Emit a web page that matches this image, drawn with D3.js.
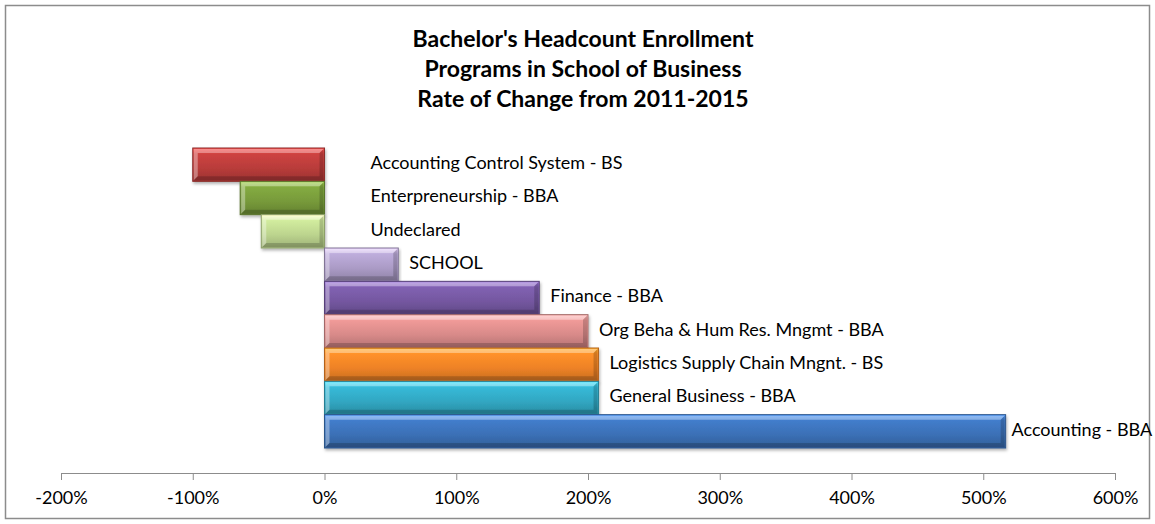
<!DOCTYPE html>
<html>
<head>
<meta charset="utf-8">
<script src="https://cdn.jsdelivr.net/npm/d3@7"></script>
<style>
  body { margin: 0; background: #fff; }
  svg { display: block; font-family: Lato, "Open Sans", sans-serif; }
  .title { font-weight: bold; font-size: 23px; fill: #000; }
  .lbl { font-size: 18px; fill: #000; }
  .axis text { font-size: 18px; fill: #000; font-family: Lato, "Open Sans", sans-serif; }
  .axis path, .axis line { stroke: #8c8c8c; }
</style>
</head>
<body>
<svg id="chart" width="1155" height="524"></svg>
<script>
// data, top to bottom
const programs = [
    "Accounting Control System - BS",
    "Enterpreneurship - BBA",
    "Undeclared",
    "SCHOOL",
    "Finance - BBA",
    "Org Beha & Hum Res. Mngmt - BBA",
    "Logistics Supply Chain Mngnt. - BS",
    "General Business - BBA",
    "Accounting - BBA"
];
const changePct = [-100, -64, -48, 56, 163, 200, 208, 208, 517];
const tickValues = [-200, -100, 0, 100, 200, 300, 400, 500, 600];
const titleLines = [
    "Bachelor's Headcount Enrollment",
    "Programs in School of Business",
    "Rate of Change from 2011-2015"
];

const barColors = ['#b93c3a', '#779a3a', '#bcd48e', '#ab9bc6', '#7457a0',
                   '#d88a89', '#ee8226', '#31a7c2', '#3b70b6'];

const svg = d3.select('#chart');
const W = 1155, H = 524;

// frame
svg.append('rect')
    .attr('x', 5.5).attr('y', 5.5)
    .attr('width', W - 11).attr('height', H - 11)
    .attr('fill', '#fff')
    .attr('stroke', '#8c8c8c')
    .attr('stroke-width', 1.5);

const xScale = d3.scaleLinear().domain([-200, 600]).range([61, 1115]);
const yScale = d3.scaleBand().domain(programs).range([148, 448]).padding(0);

const defs = svg.append('defs');
const filt = defs.append('filter').attr('id', 'shadow')
    .attr('x', '-5%').attr('y', '-20%').attr('width', '110%').attr('height', '150%');
filt.append('feDropShadow').attr('dx', 1).attr('dy', 2).attr('stdDeviation', 1.5)
    .attr('flood-color', '#000').attr('flood-opacity', 0.3);

barColors.forEach(function (c, i) {
    const g = defs.append('linearGradient').attr('id', 'grad' + i)
        .attr('x1', 0).attr('y1', 0).attr('x2', 0).attr('y2', 1);
    g.append('stop').attr('offset', '0%').attr('stop-color', d3.rgb(c).brighter(0.9));
    g.append('stop').attr('offset', '18%').attr('stop-color', d3.rgb(c).brighter(0.3));
    g.append('stop').attr('offset', '60%').attr('stop-color', c);
    g.append('stop').attr('offset', '100%').attr('stop-color', d3.rgb(c).darker(0.5));
});

const rows = programs.map(function (p, i) {
    return { name: p, value: changePct[i], idx: i };
});

// axis
const axis = svg.append('g')
    .attr('class', 'axis')
    .attr('transform', 'translate(0,473)')
    .call(d3.axisBottom(xScale)
        .tickValues(tickValues)
        .tickSize(7)
        .tickSizeOuter(0)
        .tickPadding(11)
        .tickFormat(function (d) { return d + '%'; }));
axis.select('.domain').attr('stroke', '#8c8c8c');

// bars
const bars = svg.selectAll('.bar-g')
    .data(rows)
    .enter()
    .append('g')
    .attr('class', 'bar-g')
    .attr('filter', 'url(#shadow)');

bars.append('rect')
    .attr('x', function (d) { return Math.min(xScale(0), xScale(d.value)); })
    .attr('y', function (d) { return yScale(d.name); })
    .attr('width', function (d) { return Math.abs(xScale(d.value) - xScale(0)); })
    .attr('height', yScale.bandwidth())
    .attr('fill', function (d) { return 'url(#grad' + d.idx + ')'; })
    .attr('stroke', function (d) { return d3.rgb(barColors[d.idx]).darker(0.8); })
    .attr('stroke-width', 1);

// bevel highlights
bars.append('path')
    .attr('d', function (d) {
        const x0 = Math.min(xScale(0), xScale(d.value)) + 1;
        const x1 = Math.max(xScale(0), xScale(d.value)) - 1;
        const y0 = yScale(d.name) + 1;
        const h = yScale.bandwidth() - 2;
        return 'M' + x0 + ',' + (y0 + h) + 'L' + x0 + ',' + y0 + 'L' + x1 + ',' + y0 +
            'L' + (x1 - 4) + ',' + (y0 + 4) + 'L' + (x0 + 4) + ',' + (y0 + 4) +
            'L' + (x0 + 4) + ',' + (y0 + h - 4) + 'Z';
    })
    .attr('fill', '#fff')
    .attr('opacity', 0.35);

bars.append('path')
    .attr('d', function (d) {
        const x0 = Math.min(xScale(0), xScale(d.value)) + 1;
        const x1 = Math.max(xScale(0), xScale(d.value)) - 1;
        const y0 = yScale(d.name) + 1;
        const h = yScale.bandwidth() - 2;
        return 'M' + x0 + ',' + (y0 + h) + 'L' + x1 + ',' + (y0 + h) + 'L' + x1 + ',' + y0 +
            'L' + (x1 - 4) + ',' + (y0 + 4) + 'L' + (x1 - 4) + ',' + (y0 + h - 4) +
            'L' + (x0 + 4) + ',' + (y0 + h - 4) + 'Z';
    })
    .attr('fill', '#000')
    .attr('opacity', 0.18);

// category labels
svg.selectAll('.lbl')
    .data(rows)
    .enter()
    .append('text')
    .attr('class', 'lbl')
    .attr('x', function (d) {
        return d.value < 0 ? xScale(0) + 46 : xScale(d.value) + 11;
    })
    .attr('y', function (d) { return yScale(d.name) + yScale.bandwidth() / 2 - 2; })
    .attr('dy', '0.35em')
    .text(function (d) { return d.name; })
    .each(function () {
        const bb = this.getBBox();
        if (bb.x + bb.width > W - 2) {
            d3.select(this).attr('x', W - 2 - bb.width);
        }
    });

// title
svg.selectAll('.title')
    .data(titleLines)
    .enter()
    .append('text')
    .attr('class', 'title')
    .attr('x', 583)
    .attr('y', function (d, i) { return 47 + i * 30; })
    .attr('text-anchor', 'middle')
    .text(function (d) { return d; });
</script>
</body>
</html>
